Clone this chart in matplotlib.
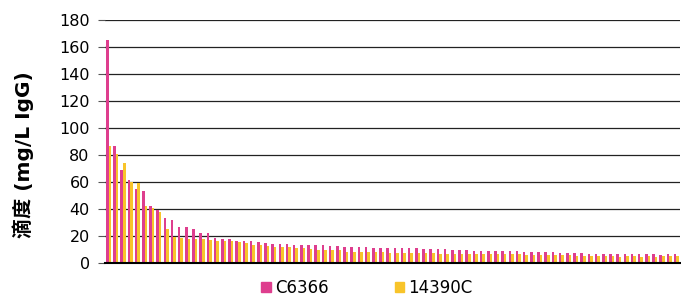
import matplotlib
matplotlib.use("Agg")
import matplotlib.pyplot as plt
import numpy as np
from matplotlib.patches import Patch

series_names = ["C6366", "14390C"]
c6366 = [165.5, 87, 69, 61.5, 55, 53, 42.5, 39.5, 33, 31.5,
         27, 27, 25, 22, 22, 18.5, 17.7, 17.7, 16.5, 16.5,
         16, 15.7, 14.7, 14.4, 14.2, 14.2, 13.7, 13.7, 13.4, 13.4,
         13.4, 12.9, 12.4, 11.9, 11.9, 11.9, 11.6, 11.4, 11.4, 11.4,
         11.4, 10.9, 10.9, 10.9, 10.4, 10.4, 10.1, 10.1, 9.9, 9.6,
         9.4, 9.1, 9.1, 8.6, 8.9, 8.9, 8.6, 8.6, 8.4, 8.4,
         7.8, 7.8, 7.8, 7.3, 7.3, 7.1, 7.1, 6.8, 6.8, 6.8,
         6.8, 6.8, 6.8, 6.8, 6.6, 6.6, 6.6, 6.1, 6.3, 6.3]
c14390 = [86.75, 81, 74, 60, 59, 42, 41, 38, 25, 19,
          18.5, 18, 18, 18, 17, 16.5, 16.5, 16, 15.4, 14.7,
          13.4, 13.2, 12.4, 12, 12, 11.6, 11.1, 11.1, 10.6, 9.4,
          9.4, 9.4, 9.4, 8.4, 7.8, 7.8, 7.8, 7.8, 7.8, 7.6,
          7.3, 7.3, 7.3, 7.3, 7.1, 7.1, 6.8, 6.8, 6.8, 6.8,
          6.6, 6.3, 6.6, 6.6, 6.3, 6.3, 6.3, 6.3, 6.1, 6.1,
          6.1, 5.8, 5.6, 5.8, 5.8, 5.3, 5.3, 5.1, 5.3, 5.1,
          5.1, 4.8, 5.1, 5.1, 4.8, 5.1, 4.8, 5.1, 5.1, 5.3]
y_ticks = [0, 20, 40, 60, 80, 100, 120, 140, 160, 180]
y_label = "滴度 (mg/L IgG)"

pink = "#DE3E8E"
yellow = "#F8C42A"

plt.rcParams['font.family'] = ['DejaVu Sans', 'Noto Sans CJK SC']

fig = plt.figure(figsize=(6.81, 3.03), dpi=100)
ax = fig.add_axes([105/681, 1-263/303, 575/681, 243/303])

x = np.arange(len(c6366))
w = 0.36
ax.bar(x - w/2, c6366, width=w, color=pink, zorder=3)
ax.bar(x + w/2, c14390, width=w, color=yellow, zorder=3)

ax.set_xlim(-0.5, len(c6366) - 0.5)
ax.set_ylim(0, 180)
ax.set_yticks(y_ticks)
ax.set_xticks([])
ax.tick_params(axis='y', labelsize=11.5, length=5, color='#555555', pad=6)
for s in ['left', 'right', 'top']:
    ax.spines[s].set_visible(False)
ax.spines['bottom'].set_color('black')
ax.spines['bottom'].set_linewidth(1.5)
ax.spines['bottom'].set_zorder(4)
ax.yaxis.grid(True, color='#222222', linewidth=0.9, zorder=0)
ax.set_axisbelow(True)

fig.text(23/681, 1-155/303, y_label, rotation=90, ha='center', va='center',
         fontsize=14.5, fontweight='bold',
         family=['DejaVu Sans', 'Noto Sans CJK SC'])

handles = [Patch(color=pink), Patch(color=yellow)]
fig.legend(handles, series_names, loc='center', bbox_to_anchor=(367/681, 1-288/303),
           ncol=2, frameon=False, fontsize=12, handlelength=0.55, handleheight=0.55,
           handletextpad=0.25, columnspacing=4.0)

fig.savefig("out.png", dpi=100)
